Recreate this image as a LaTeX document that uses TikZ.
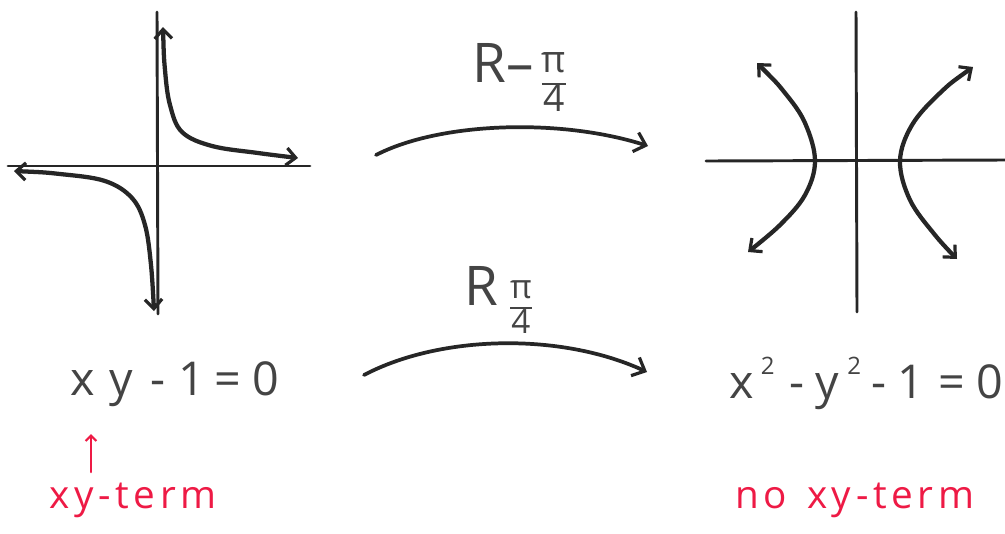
\documentclass[tikz,border=0pt]{standalone}
\usepackage{fontspec}
\setmainfont{Open Sans}
\usetikzlibrary{arrows.meta}
\definecolor{ink}{HTML}{262626}
\definecolor{txt}{HTML}{444444}
\definecolor{redink}{HTML}{EE1A45}
\newcommand{\cb}[2]{\makebox[#1pt][c]{#2}}
\newcommand{\sq}[1]{\makebox[#1pt][c]{\raisebox{0.5em}{\fontsize{18}{22}\selectfont 2}}}
\newcommand{\pifrac}{\setlength{\arrayrulewidth}{1.6pt}\begin{tabular}{@{}c@{}}π\\\hline 4\end{tabular}}
\begin{document}
\begin{tikzpicture}[x=0.75pt,y=-0.75pt,
  axis/.style={draw=ink,line width=2.2pt,line cap=round},
  curve/.style={draw=ink,line width=3.2pt,line cap=round,line join=round,
    arrows={{Straight Barb[length=7pt,width=13pt,line width=2.4pt]}-{Straight Barb[length=7pt,width=13pt,line width=2.4pt]}}},
  mapar/.style={draw=ink,line width=2.8pt,line cap=round,
    -{Straight Barb[length=8pt,width=15pt,line width=2.4pt]}},
  eq/.style={text=txt,font=\fontsize{35}{40}\selectfont,inner sep=0pt},
  lab/.style={text=txt,font=\fontsize{41}{46}\selectfont,inner sep=0pt},
  frac/.style={text=txt,inner sep=0pt},
  note/.style={text=redink,font=\fontsize{29}{34}\selectfont\addfontfeature{LetterSpace=12},inner sep=0pt}]
\useasboundingbox (0,0) rectangle (1005,533);
\fill[white] (0,0) rectangle (1005,533);
% left graph axes
\coordinate (lyt) at (157,12);
\coordinate (lyb) at (158,314);
\coordinate (lxl) at (8,166);
\coordinate (lxr) at (310,166);
\draw[axis] (lyt) -- (lyb);
\draw[axis] (lxl) -- (lxr);
% left hyperbola xy=1
\draw[curve]
  plot[smooth,tension=0.6] coordinates {(163,27) (165,70) (170,105) (182,132) (212,146) (258,153) (298,158)};
\draw[curve]
  plot[smooth,tension=0.6] coordinates {(14,171) (60,174) (105,181) (132,198) (145,225) (151,265) (154,311)};
% right graph axes
\coordinate (ryt) at (856,12);
\coordinate (ryb) at (857,312);
\coordinate (rxl) at (706,161);
\coordinate (rxr) at (1005,160);
\draw[axis] (ryt) -- (ryb);
\draw[axis] (rxl) -- (rxr);
% right hyperbola x^2-y^2=1
\draw[curve]
  plot[smooth,tension=0.6] coordinates {(757,63) (785,93) (805,123) (815,161) (805,195) (780,225) (748,252)};
\draw[curve]
  plot[smooth,tension=0.6] coordinates {(973,67) (940,93) (912,125) (900,161) (910,200) (935,235) (957,259)};
% mapping arrows
\coordinate (a1s) at (376,155);
\coordinate (a1e) at (648,146);
\coordinate (a2s) at (364,375);
\coordinate (a2e) at (647,372);
\draw[mapar] (a1s) .. controls (440,122) and (560,118) .. (a1e);
\draw[mapar] (a2s) .. controls (440,335) and (560,332) .. (a2e);
% labels of the maps
\node[lab,anchor=base west] (r1) at (472,82) {R–};
\node[frac,font=\fontsize{28}{26}\selectfont] (f1) at (554,85) {\pifrac};
\node[lab,anchor=base west] (r2) at (464,305) {R};
\node[frac,font=\fontsize{25}{22}\selectfont] (f2) at (521,310) {\pifrac};
% equations
\node[eq,anchor=base west] (e1) at (63,395)
  {\cb{28.5}{x}\cb{30}{y}\cb{25.5}{-}\cb{25.5}{1}\cb{28.5}{=}\cb{28.5}{0}};
\node[eq,anchor=base west] (e2) at (727,398)
  {\cb{21}{x}\sq{18.75}\cb{24.75}{-}\cb{21}{y}\sq{19.5}\cb{18}{-}\cb{30}{1}\cb{31.5}{=}\cb{25.5}{0}};
% notes
\coordinate (upb) at (91,472);
\coordinate (upt) at (91,434);
\draw[draw=redink,line width=1.9pt,line cap=round,-{Straight Barb[length=4pt,width=8pt,line width=1.7pt]}] (upb) -- (upt);
\node[note,anchor=base west] (n1) at (49,508) {xy-term};
\node[note,anchor=base west] (n2) at (735,508) {no\hspace{15pt}xy-term};
\end{tikzpicture}
\end{document}
